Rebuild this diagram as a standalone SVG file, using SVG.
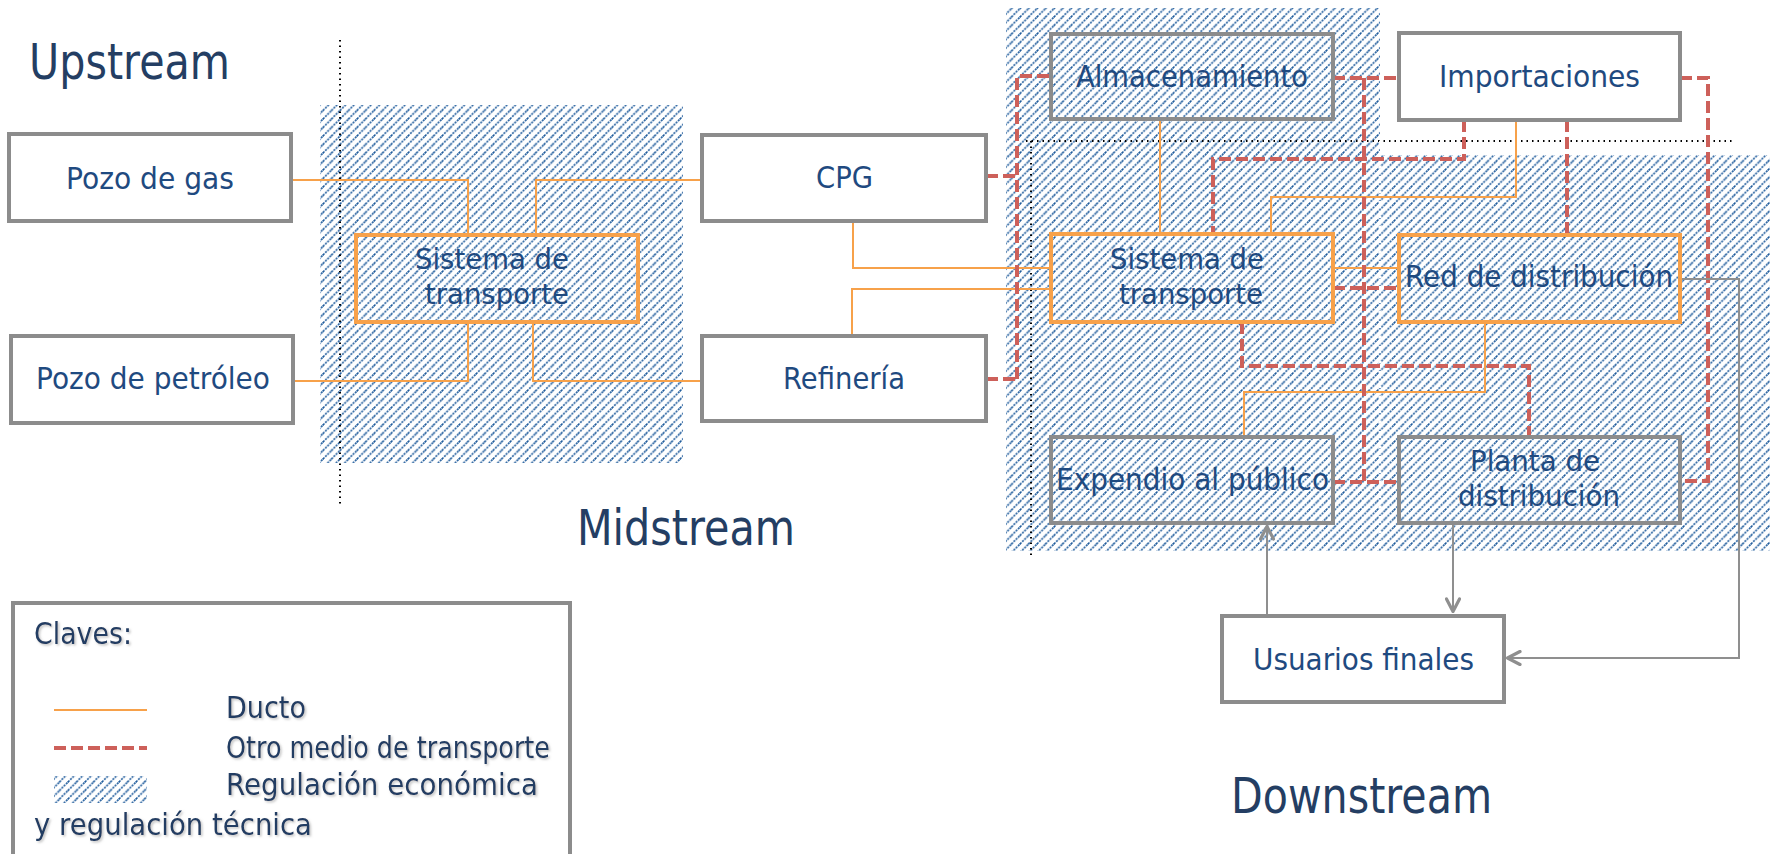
<svg xmlns="http://www.w3.org/2000/svg" width="1773" height="854" viewBox="0 0 1773 854">
<style>
.bg{fill:#ffffff}
.hatch{fill:url(#hatch);stroke:none}
.dot{stroke:#000;stroke-width:2;stroke-dasharray:1.5 4;fill:none}
.wdot{stroke:#fff;stroke-width:2;stroke-dasharray:2 3;fill:none}
.gbox{fill:#fff;stroke:#8c8c8c;stroke-width:4}
.gboxh{fill:none;stroke:#8c8c8c;stroke-width:4}
.obox{fill:none;stroke:#f7a14a;stroke-width:4}
.duct{fill:none;stroke:#f7a14a;stroke-width:2}
.other{fill:none;stroke:#cd605a;stroke-width:4;stroke-dasharray:12 5}
.flow{fill:none;stroke:#8f8f8f;stroke-width:2}
.lbl{font-family:'DejaVu Sans',Verdana,sans-serif;font-size:31px;fill:#1f4a80}
.lbl2{font-family:'DejaVu Sans',Verdana,sans-serif;font-size:28px;fill:#1f4a80}
.head{font-family:'DejaVu Sans',Verdana,sans-serif;font-size:49px;fill:#243e63}
.leg{font-family:'DejaVu Sans',Verdana,sans-serif;font-size:30px;fill:#243e63;filter:url(#shadow)}
</style>
<defs>
<pattern id="hatch" patternUnits="userSpaceOnUse" width="8.5" height="8.5">
<path d="M-1,1 L1,-1 M0,8.5 L8.5,0 M7.5,9.5 L9.5,7.5" stroke="#1d5a9b" stroke-width="1.6" stroke-dasharray="2 1.1"/>
</pattern>
<marker id="arr" viewBox="0 0 16 16" refX="15" refY="8" markerWidth="16" markerHeight="16" markerUnits="userSpaceOnUse" orient="auto">
<path d="M2,1.5 L14.5,8 L2,14.5" fill="none" stroke="#8f8f8f" stroke-width="3.2" stroke-linecap="round" stroke-linejoin="round"/>
</marker>
<filter id="shadow" x="-5%" y="-20%" width="110%" height="150%">
<feDropShadow dx="1.5" dy="1.5" stdDeviation="0.8" flood-color="#9a9a9a" flood-opacity="0.6"/>
</filter>
</defs>
<rect class="bg" x="0" y="0" width="1773" height="854"/>

<g id="regulation-areas">
<rect class="hatch" x="320" y="105" width="363" height="358"/>
<rect class="hatch" x="1006" y="8" width="374" height="148"/>
<rect class="hatch" x="1006" y="155" width="764" height="396"/>
</g>

<g id="boundaries">
<path class="dot" d="M340,40 V505"/>
<path class="dot" d="M1031,141 V558"/>
<path class="dot" d="M1026,141 H1734"/>
<path class="wdot" d="M1380,141 V551"/>
</g>

<g id="stage-labels">
<text class="head" x="29" y="79" textLength="201" lengthAdjust="spacingAndGlyphs">Upstream</text>
<text class="head" x="577" y="545" textLength="218" lengthAdjust="spacingAndGlyphs">Midstream</text>
<text class="head" x="1231" y="813" textLength="261" lengthAdjust="spacingAndGlyphs">Downstream</text>
</g>

<g id="connectors">
<path class="duct" d="M291,180 H468 V235"/>
<path class="duct" d="M536,235 V180 H702"/>
<path class="duct" d="M293,381 H468 V322"/>
<path class="duct" d="M533,322 V381 H702"/>
<path class="duct" d="M853,221 V268 H1051"/>
<path class="duct" d="M852,336 V289 H1051"/>
<path class="duct" d="M1160,119 V234"/>
<path class="duct" d="M1516,120 V197 H1271 V234"/>
<path class="duct" d="M1333,268 H1399"/>
<path class="duct" d="M1485,322 V392 H1244 V437"/>
<path class="other" d="M986,176 H1017"/>
<path class="other" d="M986,379 H1017"/>
<path class="other" d="M1017,379 V76 H1051"/>
<path class="other" d="M1333,78 H1399"/>
<path class="other" d="M1364,78 V482"/>
<path class="other" d="M1333,482 H1399"/>
<path class="other" d="M1464,120 V159 H1213 V234"/>
<path class="other" d="M1567,120 V235"/>
<path class="other" d="M1680,78 H1708 V481 H1680"/>
<path class="other" d="M1333,288 H1399"/>
<path class="other" d="M1242,322 V366 H1529 V437"/>
<path class="flow" d="M1267,616 V526" marker-end="url(#arr)"/>
<path class="flow" d="M1453,523 V612" marker-end="url(#arr)"/>
<path class="flow" d="M1680,279 H1739 V658 H1507" marker-end="url(#arr)"/>
</g>

<g id="pozo-gas">
<rect class="gbox" x="9" y="134" width="282" height="87"/>
<text class="lbl" x="66" y="189" textLength="168" lengthAdjust="spacingAndGlyphs">Pozo de gas</text>
</g>
<g id="pozo-petroleo">
<rect class="gbox" x="11" y="336" width="282" height="87"/>
<text class="lbl" x="36" y="389" textLength="234" lengthAdjust="spacingAndGlyphs">Pozo de petróleo</text>
</g>
<g id="sistema-transporte-mid">
<rect class="obox" x="356" y="235" width="282" height="87"/>
<text class="lbl2" x="415" y="269" textLength="154" lengthAdjust="spacingAndGlyphs">Sistema de</text>
<text class="lbl2" x="425" y="304" textLength="144" lengthAdjust="spacingAndGlyphs">transporte</text>
</g>
<g id="cpg">
<rect class="gbox" x="702" y="135" width="284" height="86"/>
<text class="lbl" x="816" y="188" textLength="57" lengthAdjust="spacingAndGlyphs">CPG</text>
</g>
<g id="refineria">
<rect class="gbox" x="702" y="336" width="284" height="85"/>
<text class="lbl" x="783" y="389" textLength="122" lengthAdjust="spacingAndGlyphs">Refinería</text>
</g>
<g id="almacenamiento">
<rect class="gboxh" x="1051" y="34" width="282" height="85"/>
<text class="lbl" x="1076" y="87" textLength="232" lengthAdjust="spacingAndGlyphs">Almacenamiento</text>
</g>
<g id="importaciones">
<rect class="gbox" x="1399" y="33" width="281" height="87"/>
<text class="lbl" x="1439" y="87" textLength="201" lengthAdjust="spacingAndGlyphs">Importaciones</text>
</g>
<g id="sistema-transporte-down">
<rect class="obox" x="1051" y="234" width="282" height="88"/>
<text class="lbl2" x="1110" y="269" textLength="154" lengthAdjust="spacingAndGlyphs">Sistema de</text>
<text class="lbl2" x="1119" y="304" textLength="144" lengthAdjust="spacingAndGlyphs">transporte</text>
</g>
<g id="red-distribucion">
<rect class="obox" x="1399" y="235" width="281" height="87"/>
<text class="lbl" x="1405" y="287" textLength="268" lengthAdjust="spacingAndGlyphs">Red de distribución</text>
</g>
<g id="expendio">
<rect class="gboxh" x="1051" y="437" width="282" height="86"/>
<text class="lbl" x="1056" y="490" textLength="273" lengthAdjust="spacingAndGlyphs">Expendio al público</text>
</g>
<g id="planta-distribucion">
<rect class="gboxh" x="1399" y="437" width="281" height="86"/>
<text class="lbl2" x="1470" y="471" textLength="130" lengthAdjust="spacingAndGlyphs">Planta de</text>
<text class="lbl2" x="1458" y="506" textLength="162" lengthAdjust="spacingAndGlyphs">distribución</text>
</g>
<g id="usuarios-finales">
<rect class="gbox" x="1222" y="616" width="282" height="86"/>
<text class="lbl" x="1253" y="670" textLength="221" lengthAdjust="spacingAndGlyphs">Usuarios finales</text>
</g>

<g id="legend">
<rect x="13" y="603" width="557" height="262" fill="#fff" stroke="#8c8c8c" stroke-width="4"/>
<text class="leg" x="34" y="644" textLength="98" lengthAdjust="spacingAndGlyphs">Claves:</text>
<path class="duct" d="M54,710 H147"/>
<path class="other" d="M54,748 H147"/>
<rect class="hatch" x="54" y="776" width="93" height="27"/>
<text class="leg" x="226" y="718" textLength="80" lengthAdjust="spacingAndGlyphs">Ducto</text>
<text class="leg" x="226" y="758" textLength="324" lengthAdjust="spacingAndGlyphs">Otro medio de transporte</text>
<text class="leg" x="226" y="795" textLength="312" lengthAdjust="spacingAndGlyphs">Regulación económica</text>
<text class="leg" x="34" y="835" textLength="278" lengthAdjust="spacingAndGlyphs">y regulación técnica</text>
</g>
</svg>
